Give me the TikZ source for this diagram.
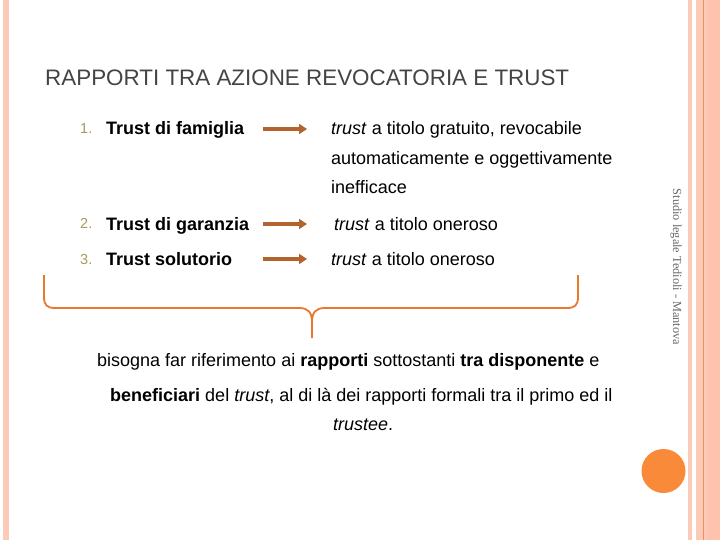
\documentclass[tikz,border=0pt]{standalone}
\usepackage{fontspec}
\usetikzlibrary{arrows.meta}
\setmainfont{Liberation Sans}
\newfontfamily\serifside{Liberation Serif}
\definecolor{pale}{HTML}{FBCBB8}
\definecolor{paledark}{HTML}{FDC3AC}
\definecolor{stripeline}{HTML}{E8935C}
\definecolor{bracecol}{HTML}{E8782C}
\definecolor{arrowcol}{HTML}{B4632E}
\definecolor{numcol}{HTML}{A89A5C}
\definecolor{titlecol}{HTML}{444444}
\definecolor{circcol}{HTML}{F98A3A}
\begin{document}
\begin{tikzpicture}[x=1pt,y=-1pt,
  body/.style={anchor=base west,inner sep=0pt,font=\fontsize{18}{21}\selectfont},
  bodyb/.style={anchor=base west,inner sep=0pt,font=\fontsize{18}{21}\selectfont\bfseries},
  num/.style={anchor=base west,inner sep=0pt,text=numcol,font=\fontsize{14.5}{17}\selectfont},
  arr/.style={draw=arrowcol,line width=3.8pt,-{Triangle[length=8pt,width=10pt]}}]
\useasboundingbox (0,0) rectangle (720,540);
\fill[white] (0,0) rectangle (720,540);
% side stripes
\fill[pale] (3,0) rectangle (9,540);
\fill[pale] (688,0) rectangle (692,540);
\fill[pale] (696,0) rectangle (720,540);
\fill[paledark] (707,0) rectangle (720,540);
\draw[stripeline,line width=0.8pt] (703,0) -- (703,540);
\fill[circcol] (663.5,471) circle (22);
\node[rotate=-90,text=titlecol!80,font=\serifside\fontsize{12.3}{14}\selectfont,inner sep=0pt] (side) at (676,267) {Studio legale Tedioli - Mantova};
% title
\node[anchor=base west,inner sep=0pt,text=titlecol,font=\fontsize{22.4}{26}\selectfont] (title) at (45,86) {RAPPORTI TRA AZIONE REVOCATORIA E TRUST};
% rows
\node[num] (n1) at (80,134) {1.};
\node[bodyb] (l1) at (106,135) {Trust di famiglia};
\coordinate (a1s) at (263,129); \coordinate (a1e) at (307,129);
\draw[arr] (a1s) -- (a1e);
\node[body] (r1) at (331,135) {\textit{trust} a titolo gratuito, revocabile};
\node[body] (r1b) at (331,165) {automaticamente e oggettivamente};
\node[body] (r1c) at (331,194) {inefficace};
\node[num] (n2) at (80,229) {2.};
\node[bodyb] (l2) at (106,230) {Trust di garanzia};
\coordinate (a2s) at (263,224); \coordinate (a2e) at (307,224);
\draw[arr] (a2s) -- (a2e);
\node[body] (r2) at (334,230) {\textit{trust} a titolo oneroso};
\node[num] (n3) at (80,264) {3.};
\node[bodyb] (l3) at (106,265) {Trust solutorio};
\coordinate (a3s) at (263,259); \coordinate (a3e) at (307,259);
\draw[arr] (a3s) -- (a3e);
\node[body] (r3) at (331,265) {\textit{trust} a titolo oneroso};
% brace
\draw[bracecol,line width=1.8pt,line join=round]
  (44,275) -- (44,297) .. controls (44,305) and (47,308) .. (55,308) -- (299,308)
  .. controls (308,308) and (312,312) .. (312,322) -- (312,338);
\draw[bracecol,line width=1.8pt,line join=round]
  (578,275) -- (578,297) .. controls (578,305) and (575,308) .. (567,308) -- (325,308)
  .. controls (316,308) and (312,312) .. (312,322);
% bottom text
\node[body] (b1) at (97,366) {bisogna far riferimento ai \textbf{rapporti} sottostanti \textbf{tra disponente} e};
\node[body] (b2) at (110,401) {\textbf{beneficiari} del \textit{trust}, al di là dei rapporti formali tra il primo ed il};
\node[body] (b3) at (333,430) {\textit{trustee}.};
\end{tikzpicture}
\end{document}
